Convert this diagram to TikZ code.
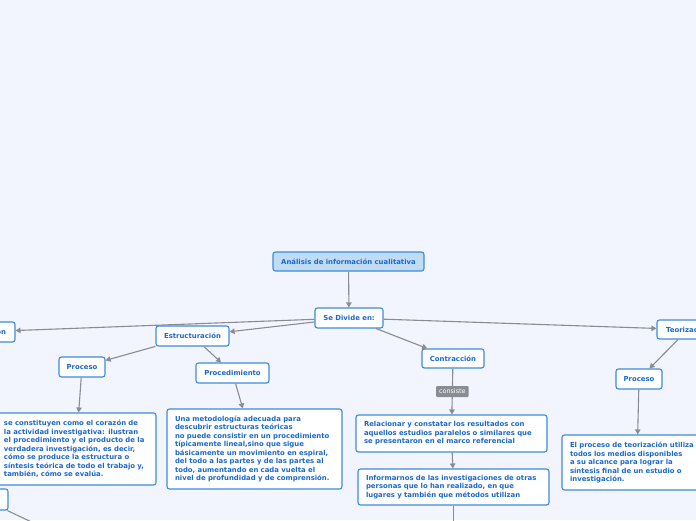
\documentclass[tikz,border=0pt]{standalone}
\usepackage{fontspec}
\newfontfamily\mapfont{DejaVu Sans}
\usetikzlibrary{arrows.meta, positioning, calc}
\definecolor{paper}{RGB}{242, 245, 253}
\definecolor{mapline}{RGB}{59, 139, 222}
\definecolor{maptext}{RGB}{28, 104, 204}
\definecolor{rootfill}{RGB}{191, 220, 242}
\definecolor{linkgray}{RGB}{138, 140, 148}

\tikzset{
  topic/.style={draw=mapline, fill=white, line width=1.1pt, rounded corners=2.5pt,
    text=maptext, font=\mapfont\bfseries\fontsize{6.9}{8.5}\selectfont,
    inner sep=0pt, minimum height=20pt},
  textbox/.style={topic, align=left, inner xsep=8pt, inner ysep=4pt},
  conn/.style={draw=linkgray, line width=1.1pt, -{Triangle[length=5pt, width=5.5pt]}},
  tag/.style={fill=linkgray, text=white, rounded corners=1pt, inner xsep=3pt, inner ysep=1.5pt,
    font=\mapfont\fontsize{6.4}{7}\selectfont, minimum height=11pt}
}

\begin{document}
\begin{tikzpicture}[x=1pt, y=-1pt]
  \useasboundingbox (0,0) rectangle (696,520);
  \fill[paper] (0,0) rectangle (696,520);
  \clip (0,0) rectangle (696,520);

  % main topic and first split
  \node[topic, fill=rootfill, minimum width=151pt, minimum height=19pt] (analisis) at (348.5,261.5) {Análisis de información cualitativa};
  \node[topic, minimum width=68pt] (divide) at (349,318) {Se Divide en:};

  \node[topic, minimum width=76pt] (categ) at (-23,332) {Categorización};
  \node[topic, minimum width=73pt] (estruct) at (192.5,336) {Estructuración};
  \node[topic, minimum width=62pt, minimum height=19pt] (contrac) at (453,358.5) {Contracción};
  \node[topic, minimum width=62pt, minimum height=19pt] (teoriz) at (688,329.5) {Teorización};

  % estructuracion
  \node[topic, minimum width=46pt] (proceso) at (82,367) {Proceso};
  \node[topic, minimum width=73pt] (procedim) at (232.5,373) {Procedimiento};
  \node[textbox, text width=144pt, minimum height=72pt] (corazon) at (76,449)
    {se constituyen como el corazón de\\la actividad investigativa: ilustran\\el procedimiento y el producto de la\\verdadera investigación, es decir,\\cómo se produce la estructura o\\síntesis teórica de todo el trabajo y,\\también, cómo se evalúa.};
  \node[textbox, text width=159pt, minimum height=80pt] (metodo) at (254.5,449)
    {Una metodología adecuada para\\descubrir estructuras teóricas\\no puede consistir en un procedimiento\\típicamente lineal,sino que sigue\\básicamente un movimiento en espiral,\\del todo a las partes y de las partes al\\todo, aumentando en cada vuelta el\\nivel de profundidad y de comprensión.};
  \node[topic, minimum width=48pt, minimum height=21pt] (otro) at (-16,499.5) {};
  \coordinate (otrohijo) at (40,526);

  % contraccion
  \node[textbox, text width=175pt, minimum height=37pt] (relacion) at (451.5,433.5)
    {Relacionar y constatar los resultados con\\aquellos estudios paralelos o similares que\\se presentaron en el marco referencial};
  \node[textbox, text width=175pt, minimum height=36pt] (informar) at (453.5,487)
    {Informarnos de las investigaciones de otras\\personas que lo han realizado, en que\\lugares y también que métodos utilizan};
  \coordinate (informarhijo) at (453.5,540);

  % teorizacion
  \node[topic, minimum width=46pt] (proceso2) at (639,379) {Proceso};
  \node[textbox, text width=134pt, minimum height=55pt] (sintesis) at (637,462.5)
    {El proceso de teorización utiliza\\todos los medios disponibles\\a su alcance para lograr la\\síntesis final de un estudio o\\investigación.};

  \draw[conn] (analisis) -- (divide);
  \draw[conn] (divide) -- (categ);
  \draw[conn] (divide) -- (estruct);
  \draw[conn] (divide) -- (contrac);
  \draw[conn] (divide) -- (teoriz);
  \draw[conn] (estruct) -- (proceso);
  \draw[conn] (estruct) -- (procedim);
  \draw[conn] (proceso) -- (corazon);
  \draw[conn] (procedim) -- (metodo);
  \draw[conn] (contrac) -- node[tag] (consiste) {consiste} (relacion);
  \draw[conn] (relacion) -- (informar);
  \draw[conn] (informar) -- (informarhijo);
  \draw[conn] (teoriz) -- (proceso2);
  \draw[conn] (proceso2) -- (sintesis);
  \draw[conn] (otro) -- (otrohijo);
\end{tikzpicture}
\end{document}
